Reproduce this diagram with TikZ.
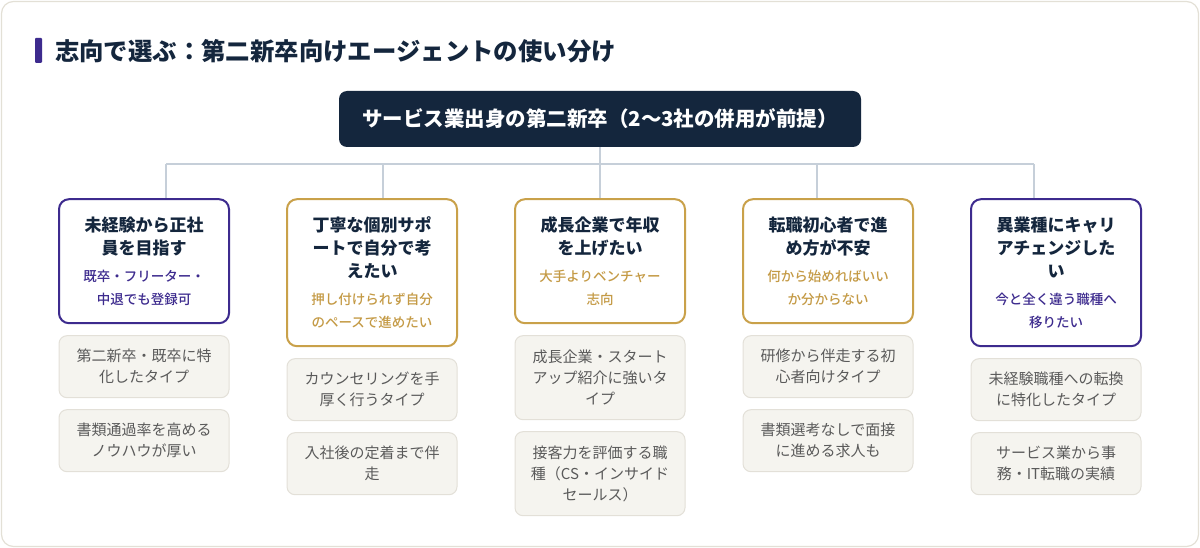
\documentclass[tikz,border=0pt]{standalone}
\usepackage{fontspec}
\setmainfont{Noto Sans CJK JP}
\newfontfamily\mdfont{Noto Sans CJK JP Medium}
\usetikzlibrary{positioning,calc}
\definecolor{navy}{HTML}{14263D}
\definecolor{cPurple}{HTML}{3D2B8E}
\definecolor{cGold}{HTML}{C9A14A}
\definecolor{goldtext}{HTML}{C49A45}
\definecolor{subfill}{HTML}{F5F4EF}
\definecolor{subline}{HTML}{E3E0D8}
\definecolor{subtext}{HTML}{5A5A5A}
\definecolor{linkc}{HTML}{C6CFD9}
\definecolor{cardline}{HTML}{E3E0D6}
\newcommand{\hdtext}[3]{{\fontsize{17}{23}\selectfont\bfseries\color{navy}#1\par}\vspace{4pt}{\fontsize{13.5}{23}\selectfont\mdfont\color{#3}#2\par}}
\tikzset{hdr/.style={draw,line width=2pt,fill=white,rounded corners=10pt,text width=150pt,align=center,inner xsep=10pt,inner ysep=0pt,minimum height=124pt},
  sub box/.style={draw=subline,line width=1pt,fill=subfill,rounded corners=8pt,text width=150pt,align=center,inner xsep=10pt,inner ysep=0pt,minimum height=62pt,text=subtext,font=\fontsize{15}{21}\selectfont},
  link/.style={draw=linkc,line width=2pt},
}

\begin{document}
\begin{tikzpicture}[x=1pt,y=1pt]
	\useasboundingbox (0,0) rectangle (1200,-548);
	% card and title
	\draw[cardline,line width=1.2pt,fill=white,rounded corners=12pt] (1.5,-1.5) rectangle (1198.5,-546.5);
	\fill[cPurple,rounded corners=1pt] (35,-38) rectangle (42,-63);
	\node[anchor=west,text=navy,font=\fontsize{24.4}{28}\selectfont\bfseries,inner sep=0pt] (title) at (55,-51) {志向で選ぶ：第二新卒向けエージェントの使い分け};
	
	%% root
	\node[fill=navy,rounded corners=8pt,minimum width=522pt,minimum height=56pt,text=white,font=\fontsize{20.5}{24}\selectfont\bfseries] (root) at (600,-119) {サービス業出身の第二新卒（2〜3社の併用が前提）};
	
	%% headers
	\node[hdr,draw=cGold] (h3) [below=51pt of root] {\hdtext{成長企業で年収\\を上げたい}{大手よりベンチャー\\志向}{goldtext}};
	\node[hdr,draw=cGold,minimum height=147pt] (h2) [left=56pt of h3.north west,anchor=north east] {\hdtext{丁寧な個別サポ\\ートで自分で考\\えたい}{押し付けられず自分\\のペースで進めたい}{goldtext}};
	\node[hdr,draw=cPurple] (h1) [left=56pt of h2.north west,anchor=north east] {\hdtext{未経験から正社\\員を目指す}{既卒・フリーター・\\中退でも登録可}{cPurple}};
	\node[hdr,draw=cGold] (h4) [right=56pt of h3.north east,anchor=north west] {\hdtext{転職初心者で進\\め方が不安}{何から始めればいい\\か分からない}{goldtext}};
	\node[hdr,draw=cPurple,minimum height=147pt] (h5) [right=56pt of h4.north east,anchor=north west] {\hdtext{異業種にキャリ\\アチェンジした\\い}{今と全く違う職種へ\\移りたい}{cPurple}};
	
	%% agent types
	\node[sub box] (a1) [below=11pt of h1] {第二新卒・既卒に特\\化したタイプ};
	\node[sub box] (b1) [below=11pt of a1] {書類通過率を高める\\ノウハウが厚い};
	\node[sub box] (a2) [below=11pt of h2] {カウンセリングを手\\厚く行うタイプ};
	\node[sub box] (b2) [below=11pt of a2] {入社後の定着まで伴\\走};
	\node[sub box,minimum height=84pt] (a3) [below=11pt of h3] {成長企業・スタート\\アップ紹介に強いタ\\イプ};
	\node[sub box,minimum height=84pt] (b3) [below=11pt of a3] {接客力を評価する職\\種（CS・インサイド\\セールス）};
	\node[sub box] (a4) [below=11pt of h4] {研修から伴走する初\\心者向けタイプ};
	\node[sub box] (b4) [below=11pt of a4] {書類選考なしで面接\\に進める求人も};
	\node[sub box] (a5) [below=11pt of h5] {未経験職種への転換\\に特化したタイプ};
	\node[sub box] (b5) [below=11pt of a5] {サービス業から事\\務・IT転職の実績};
	
	%% connectors
	\coordinate (bus) at ($(root.south)+(0,-17)$);
	\foreach \i/\x in {1/166,2/383,3/600,4/817,5/1034}
		\coordinate (d\i) at (\x,0 |- h\i.north);
	\path[link] (root.south) -- (bus) (bus -| d1) -- (bus -| d5);
	\foreach \i in {1,...,5}
		\path[link] (bus -| d\i) -- (d\i);
\end{tikzpicture}
\end{document}
